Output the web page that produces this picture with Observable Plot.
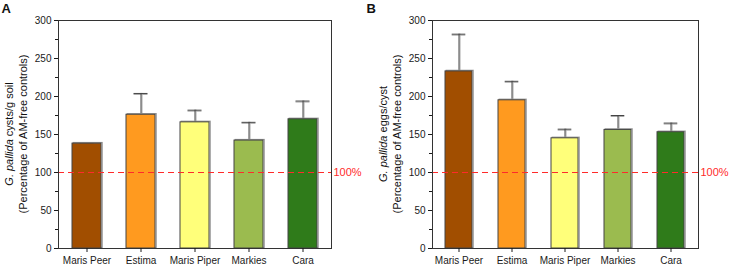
<!DOCTYPE html>
<html>
<head>
<meta charset="utf-8">
<script src="https://cdn.jsdelivr.net/npm/d3@7"></script>
<script src="https://cdn.jsdelivr.net/npm/@observablehq/plot@0.6"></script>
<style>
  body { margin: 0; background: #fff; }
  #wrap { display: flex; width: 730px; height: 269px; }
  #wrap > div { width: 365px; height: 269px; }
  svg { display: block; overflow: visible; }
</style>
</head>
<body>
<div id="wrap"><div id="panelA"></div><div id="panelB"></div></div>
<script>
// Potato cultivars
const cultivars = ["Maris Peer", "Estima", "Maris Piper", "Markies", "Cara"];
const cultivarColors = ["#a14e00", "#ff9a1f", "#ffff7a", "#9bbb4f", "#2f7b1a"];

// Panel A: G. pallida cysts/g soil, % of AM-free controls (mean and SD)
const cystsMean = [138, 176, 166, 142, 170];
const cystsSD = [1, 28, 16, 24, 24];

// Panel B: G. pallida eggs/cyst, % of AM-free controls (mean and SD)
const eggsMean = [233, 195, 145, 156, 153];
const eggsSD = [49, 25, 12, 19, 12];

const majorTicks = [0, 50, 100, 150, 200, 250, 300];
const minorTicks = [25, 75, 125, 175, 225, 275];
const referenceLine = [100];

const FONT = "'Liberation Sans', Arial, sans-serif";

function panel({letter, mean, sd, yTitle, marginLeft, marginRight, padding, capInset}) {
  const rows = cultivars.map((c, i) => ({cultivar: c, value: mean[i], top: mean[i] + sd[i]}));
  const svg = Plot.plot({
    width: 365,
    height: 269,
    marginLeft,
    marginRight,
    marginTop: 20,
    marginBottom: 21,
    style: {fontFamily: FONT, fontSize: "10px", color: "#1a1a1a", background: "#fff", overflow: "visible"},
    x: {domain: cultivars, paddingInner: padding, paddingOuter: padding / 2, label: null},
    y: {domain: [0, 300], label: null},
    color: {domain: cultivars, range: cultivarColors},
    marks: [
      // error bars (soft shadow then line)
      Plot.ruleX(rows, {x: "cultivar", y1: "value", y2: "top", stroke: "#aaa", strokeWidth: 1, dx: 1}),
      Plot.tickY(rows, {x: "cultivar", y: "top", stroke: "#aaa", insetLeft: capInset, insetRight: capInset, dy: 1}),
      Plot.ruleX(rows, {x: "cultivar", y1: "value", y2: "top", stroke: "#444", strokeWidth: 1}),
      Plot.tickY(rows, {x: "cultivar", y: "top", stroke: "#444", insetLeft: capInset, insetRight: capInset}),
      // bars with a light edge shadow
      Plot.barY(rows, {x: "cultivar", y: "value", fill: "none", stroke: "#999", strokeWidth: 1.2, dx: 1.2, dy: -0.6}),
      Plot.barY(rows, {x: "cultivar", y: "value", fill: "cultivar", stroke: "#444", strokeWidth: 1}),
      // 100 % reference level
      Plot.ruleY(referenceLine, {stroke: "#ff2a2a", strokeWidth: 1.1, strokeDasharray: "6,4"}),
      Plot.text(referenceLine, {y: d => d, text: () => "100%", frameAnchor: "right", textAnchor: "start", dx: 2, fill: "#ff2a2a", fontSize: 11}),
      Plot.frame({stroke: "#333", strokeWidth: 1}),
      Plot.axisY({ticks: majorTicks, tickSize: 4, tickPadding: 3, label: null}),
      Plot.axisY({ticks: minorTicks, tickSize: 3, tickFormat: () => "", label: null}),
      Plot.axisX({tickSize: 4, tickPadding: 4, label: null, fontSize: 10})
    ]
  });

  const s = d3.select(svg);
  const midY = (20 + 248) / 2;
  // panel letter
  s.append("text")
    .attr("x", 1.5).attr("y", 13)
    .attr("text-anchor", "start")
    .style("font-family", FONT)
    .style("font-size", "13px").style("font-weight", "bold").attr("fill", "#111")
    .text(letter);
  // two-line y axis title
  const t1 = s.append("text")
    .attr("transform", `translate(${marginLeft - 45},${midY}) rotate(-90)`)
    .attr("text-anchor", "middle")
    .style("font-family", FONT)
    .style("font-size", "11px").attr("fill", "#111");
  t1.append("tspan").style("font-style", "italic").text("G. pallida");
  t1.append("tspan").text(" " + yTitle);
  s.append("text")
    .attr("transform", `translate(${marginLeft - 31},${midY}) rotate(-90)`)
    .attr("text-anchor", "middle")
    .style("font-family", FONT)
    .style("font-size", "11px").attr("fill", "#111")
    .text("(Percentage of AM-free controls)");
  return svg;
}

document.getElementById("panelA").append(panel({
  letter: "A", mean: cystsMean, sd: cystsSD, yTitle: "cysts/g soil",
  marginLeft: 58, marginRight: 34, padding: 0.47, capInset: 7.5
}));
document.getElementById("panelB").append(panel({
  letter: "B", mean: eggsMean, sd: eggsSD, yTitle: "eggs/cyst",
  marginLeft: 67, marginRight: 32, padding: 0.49, capInset: 6.7
}));
</script>
</body>
</html>
